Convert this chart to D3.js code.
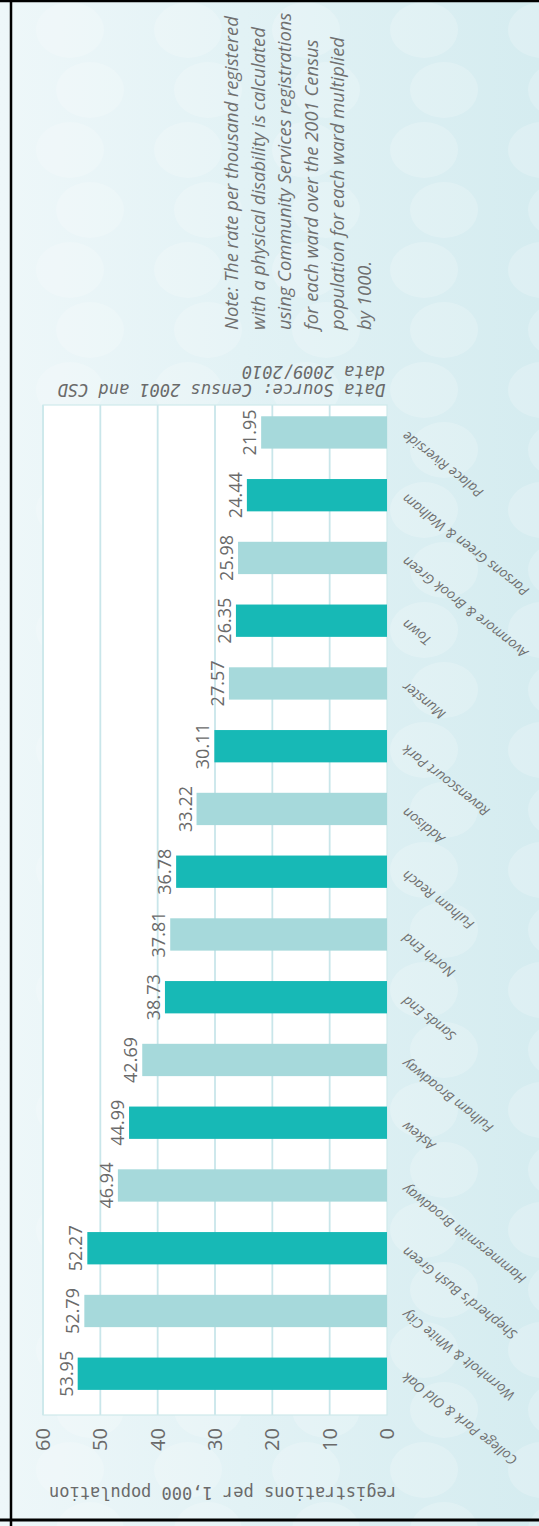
<!DOCTYPE html>
<html>
<head>
<meta charset="utf-8">
<script src="https://cdn.jsdelivr.net/npm/d3@7"></script>
<style>
  html, body { margin: 0; padding: 0; background: #ffffff; }
  svg { display: block; }
</style>
</head>
<body>
<svg id="chart" width="539" height="1526"></svg>
<script>
// Wards, ordered by rate (highest first)
const wards = [
  "College Park & Old Oak", "Wormholt & White City", "Shepherd's Bush Green",
  "Hammersmith Broadway", "Askew", "Fulham Broadway", "Sands End", "North End",
  "Fulham Reach", "Addison", "Ravenscourt Park", "Munster", "Town",
  "Avonmore & Brook Green", "Parsons Green & Walham", "Palace Riverside"
];
// Registrations per 1,000 population with a physical disability
const rates = [53.95, 52.79, 52.27, 46.94, 44.99, 42.69, 38.73, 37.81,
               36.78, 33.22, 30.11, 27.57, 26.35, 25.98, 24.44, 21.95];
const rateTicks = [0, 10, 20, 30, 40, 50, 60];
const axisTitle = "registrations per 1,000 population";
const sourceLines = ["Data Source: Census 2001 and CSD", "data 2009/2010"];
const noteLines = [
  "Note: The rate per thousand registered",
  "with a physical disability is calculated",
  "using Community Services registrations",
  "for each ward over the 2001 Census",
  "population for each ward multiplied",
  "by 1000."
];

const W = 539, H = 1526;
const svg = d3.select("#chart");

// ---- page background -------------------------------------------------
const defs = svg.append("defs");
const bg = defs.append("linearGradient").attr("id", "bgGrad")
  .attr("x1", "0").attr("y1", "0").attr("x2", "1").attr("y2", "0");
bg.append("stop").attr("offset", "0").attr("stop-color", "#eef7f9");
bg.append("stop").attr("offset", "0.45").attr("stop-color", "#e2f2f5");
bg.append("stop").attr("offset", "1").attr("stop-color", "#d5ecf0");
svg.append("rect").attr("width", W).attr("height", H).attr("fill", "url(#bgGrad)");

// soft bokeh dots in the backdrop
const dots = svg.append("g").attr("fill", "#ffffff").attr("opacity", 0.2);
d3.range(0, 26).forEach(r => {
  d3.range(0, 5).forEach(c => {
    dots.append("ellipse")
      .attr("cx", 70 + c * 118 + (r % 2) * 20)
      .attr("cy", 30 + r * 60)
      .attr("rx", 34).attr("ry", 28);
  });
});

// frame
svg.append("line").attr("x1", 11).attr("x2", 11).attr("y1", 0).attr("y2", H)
  .attr("stroke", "#000").attr("stroke-width", 2.5);
svg.append("line").attr("x1", 0).attr("x2", W).attr("y1", 1).attr("y2", 1)
  .attr("stroke", "#000").attr("stroke-width", 2.5);
svg.append("line").attr("x1", 0).attr("x2", W).attr("y1", 1520).attr("y2", 1520)
  .attr("stroke", "#000").attr("stroke-width", 3);

// ---- chart, laid out as a column chart and turned a quarter turn ------
// Local frame: 1526 wide, 539 tall.
const g = svg.append("g").attr("transform", `translate(0,${H}) rotate(-90)`);

const plot = { left: 111, right: 1121, top: 43, bottom: 387 };

const x = d3.scaleBand()
  .domain(wards)
  .range([plot.left, plot.right])
  .paddingInner(0.485)
  .paddingOuter(0.29)
  .align(0.69);

const y = d3.scaleLinear()
  .domain([0, 60])
  .range([plot.bottom, plot.top]);

// plot background
g.append("rect")
  .attr("x", plot.left).attr("y", plot.top)
  .attr("width", plot.right - plot.left).attr("height", plot.bottom - plot.top)
  .attr("fill", "#ffffff");

// gridlines
g.append("g").selectAll("line")
  .data(rateTicks.filter(t => t > 0))
  .join("line")
  .attr("x1", plot.left).attr("x2", plot.right)
  .attr("y1", d => y(d)).attr("y2", d => y(d))
  .attr("stroke", "#c9e6ea").attr("stroke-width", 1.8);

// plot edges
g.append("rect")
  .attr("x", plot.left).attr("y", plot.top)
  .attr("width", plot.right - plot.left).attr("height", plot.bottom - plot.top)
  .attr("fill", "none").attr("stroke", "#cfe9ec").attr("stroke-width", 1.2);

// bars
g.append("g").selectAll("rect")
  .data(wards)
  .join("rect")
  .attr("x", d => x(d))
  .attr("width", x.bandwidth())
  .attr("y", (d, i) => y(rates[i]))
  .attr("height", (d, i) => y(0) - y(rates[i]))
  .attr("fill", (d, i) => i % 2 === 0 ? "#17b9b6" : "#a6d9db");

// value labels
g.append("g").selectAll("text")
  .data(wards)
  .join("text")
  .attr("x", d => x(d) + x.bandwidth() / 2)
  .attr("y", (d, i) => y(rates[i]) - 5)
  .attr("text-anchor", "middle")
  .attr("font-family", "'Open Sans', sans-serif")
  .attr("font-size", 18)
  .attr("fill", "#6a6a6a")
  .text((d, i) => rates[i].toFixed(2));

// value axis
const yAxis = g.append("g")
  .attr("transform", `translate(${plot.left},0)`)
  .call(d3.axisLeft(y).tickValues(rateTicks).tickSize(0).tickPadding(13));
yAxis.select(".domain").remove();
yAxis.selectAll("text")
  .attr("font-family", "'Open Sans', sans-serif")
  .attr("font-size", 20)
  .attr("fill", "#6a6a6a");

// ward labels
g.append("g").selectAll("text")
  .data(wards)
  .join("text")
  .attr("transform", d => `translate(${x(d) + x.bandwidth() / 2 + 2},${plot.bottom + 20}) rotate(-52)`)
  .attr("text-anchor", "end")
  .attr("font-family", "'Open Sans', sans-serif")
  .attr("font-style", "italic")
  .attr("font-size", 13.8)
  .attr("fill", "#707070")
  .text(d => d);

// axis title
const titleX = 39, titleY = (plot.top + plot.bottom) / 2 + 8;
g.append("text")
  .attr("transform", `translate(${titleX},${titleY}) rotate(-90)`)
  .attr("text-anchor", "middle")
  .attr("font-family", "'DejaVu Sans Mono', monospace")
  .attr("font-size", 17)
  .attr("fill", "#6a6a6a")
  .text(axisTitle);

// data source
sourceLines.forEach((line, i) => {
  g.append("text")
    .attr("transform", `translate(${1142 + i * 18},${plot.bottom - 2}) rotate(-90)`)
    .attr("text-anchor", "start")
    .attr("font-family", "'DejaVu Sans Mono', monospace")
    .attr("font-style", "italic")
    .attr("font-size", 17)
    .attr("fill", "#6a6a6a")
    .text(line);
});

// note
noteLines.forEach((line, i) => {
  g.append("text")
    .attr("x", 1196)
    .attr("y", 238 + i * 26.5)
    .attr("font-family", "'Open Sans', sans-serif")
    .attr("font-style", "italic")
    .attr("font-size", 18.4)
    .attr("fill", "#707070")
    .text(line);
});
</script>
</body>
</html>
